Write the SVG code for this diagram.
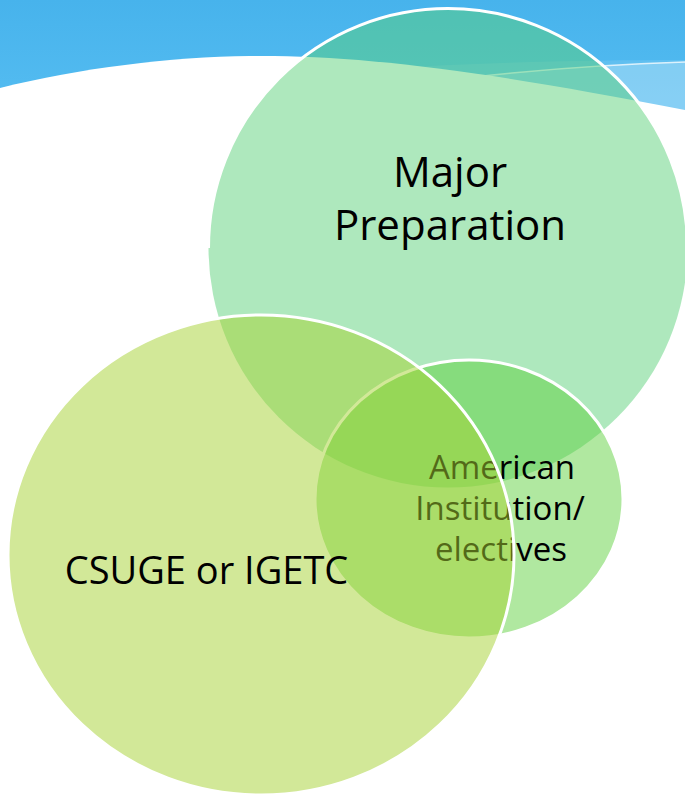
<svg xmlns="http://www.w3.org/2000/svg" width="685" height="794" viewBox="0 0 685 794">
  <defs>
    <linearGradient id="sky" x1="0" y1="0" x2="0" y2="1">
      <stop offset="0" stop-color="#47B3EC"/>
      <stop offset="1" stop-color="#57BEF2"/>
    </linearGradient>
  </defs>
  <style>
    .lbl { font-family: "Open Sans", "Liberation Sans", sans-serif; fill: #000; text-anchor: middle; }
    .edge { fill: none; stroke: #FFFFFF; stroke-width: 3; }
  </style>

  <g id="background">
    <rect x="0" y="0" width="685" height="130" fill="url(#sky)"/>
    <path d="M300,75 C420,64 560,60 685,60 L685,130 L300,130 Z" fill="#FFFFFF" fill-opacity="0.1"/>
    <path d="M380,90 C450,78 560,66 685,62 L685,130 L380,130 Z" fill="#FFFFFF" fill-opacity="0.22"/>
    <path d="M380,90 C450,78 560,66 685,62" fill="none" stroke="#FFFFFF" stroke-opacity="0.75" stroke-width="1.5"/>
    <path d="M0,88 C80,68 170,57 250,56 C360,55 480,70 685,110 L685,794 L0,794 Z" fill="#FFFFFF"/>
  </g>

  <g id="major-preparation">
    <circle cx="448" cy="248" r="239.5" fill="rgb(90,208,120)" fill-opacity="0.49"/>
    <path class="edge" d="M208.5,248 A239.5,239.5 0 0 1 687.5,248"/>
    <text class="lbl" font-size="42" x="450" y="187">Major</text>
    <text class="lbl" font-size="42" x="450" y="240">Preparation</text>
  </g>

  <g id="american-institution">
    <ellipse cx="469" cy="499" rx="154" ry="139" fill="rgb(90,207,57)" fill-opacity="0.48" stroke="#FFFFFF" stroke-width="3"/>
    <text class="lbl" font-size="33" x="502" y="479">American</text>
    <text class="lbl" font-size="33" x="500" y="520">Institution/</text>
    <text class="lbl" font-size="33" x="501" y="561">electives</text>
  </g>

  <g id="csuge-igetc">
    <ellipse cx="261" cy="555" rx="253" ry="240" fill="rgb(165,210,50)" fill-opacity="0.5" stroke="#FFFFFF" stroke-width="3"/>
    <text class="lbl" font-size="38" x="206.5" y="584">CSUGE or IGETC</text>
  </g>
</svg>
